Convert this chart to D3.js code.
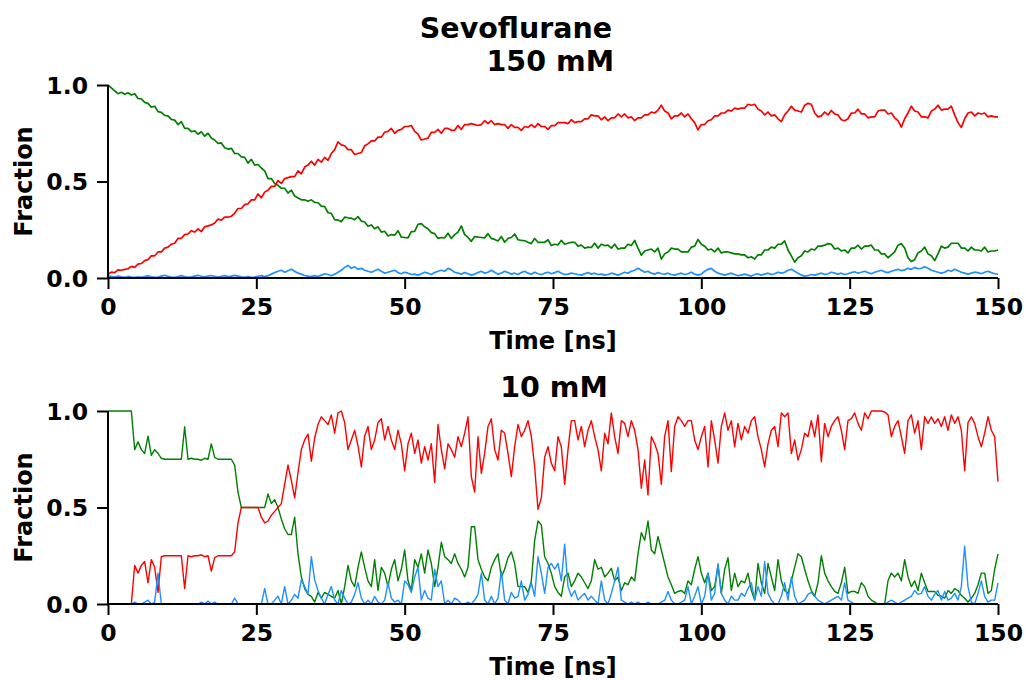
<!DOCTYPE html>
<html>
<head>
<meta charset="utf-8">
<script src="https://cdn.jsdelivr.net/npm/d3@7"></script>
<style>
  html, body { margin: 0; padding: 0; background: #fff; }
  svg { display: block; }
  text { font-family: "DejaVu Sans", sans-serif; font-weight: bold; fill: #000; }
</style>
</head>
<body>
<svg id="chart" width="1026" height="680"></svg>
<script>
// Fraction of frames in each state along a 150 ns trajectory (268 saved frames).
const frameCount = 268;
const timeNs = d3.range(frameCount).map(i => +(i * 150 / (frameCount - 1)).toFixed(3));

const xTicks = [0, 25, 50, 75, 100, 125, 150];
const yTicks = [0.0, 0.5, 1.0];

// ---- 150 mM ----
const high_red = [
  0.02, 0.03, 0.028, 0.042, 0.04, 0.045, 0.048, 0.06, 0.055, 0.072,
  0.075, 0.09, 0.095, 0.115, 0.115, 0.135, 0.135, 0.155, 0.16, 0.175,
  0.18, 0.205, 0.205, 0.225, 0.228, 0.245, 0.238, 0.255, 0.24, 0.265,
  0.27, 0.275, 0.285, 0.305, 0.3, 0.315, 0.315, 0.32, 0.335, 0.36,
  0.36, 0.38, 0.385, 0.405, 0.405, 0.435, 0.415, 0.445, 0.455, 0.475,
  0.475, 0.505, 0.49, 0.515, 0.52, 0.525, 0.525, 0.555, 0.54, 0.575,
  0.585, 0.605, 0.585, 0.615, 0.6, 0.625, 0.61, 0.645, 0.665, 0.705,
  0.69, 0.685, 0.665, 0.665, 0.64, 0.645, 0.65, 0.685, 0.695, 0.71,
  0.71, 0.73, 0.73, 0.755, 0.76, 0.775, 0.75, 0.765, 0.77, 0.785,
  0.785, 0.79, 0.76, 0.745, 0.715, 0.72, 0.725, 0.755, 0.755, 0.77,
  0.75, 0.775, 0.775, 0.765, 0.765, 0.79, 0.77, 0.795, 0.795, 0.8,
  0.795, 0.79, 0.795, 0.815, 0.8, 0.815, 0.795, 0.8, 0.795, 0.795,
  0.775, 0.795, 0.78, 0.78, 0.765, 0.785, 0.78, 0.795, 0.78, 0.8,
  0.785, 0.785, 0.77, 0.79, 0.79, 0.805, 0.805, 0.805, 0.8, 0.82,
  0.805, 0.81, 0.81, 0.825, 0.825, 0.845, 0.84, 0.84, 0.82, 0.835,
  0.815, 0.83, 0.83, 0.85, 0.835, 0.85, 0.83, 0.835, 0.815, 0.83,
  0.83, 0.845, 0.845, 0.86, 0.855, 0.87, 0.895, 0.865, 0.855, 0.825,
  0.84, 0.84, 0.855, 0.835, 0.85, 0.825, 0.805, 0.768, 0.795, 0.795,
  0.815, 0.82, 0.84, 0.84, 0.855, 0.855, 0.87, 0.865, 0.88, 0.875,
  0.88, 0.88, 0.9, 0.895, 0.9, 0.875, 0.865, 0.845, 0.86, 0.84,
  0.845, 0.825, 0.81, 0.845, 0.865, 0.89, 0.87, 0.865, 0.86, 0.895,
  0.905, 0.9, 0.855, 0.835, 0.84, 0.86, 0.845, 0.868, 0.85, 0.845,
  0.82, 0.815, 0.825, 0.855, 0.855, 0.875, 0.85, 0.85, 0.83, 0.835,
  0.835, 0.865, 0.87, 0.87, 0.85, 0.855, 0.83, 0.815, 0.782, 0.825,
  0.855, 0.89, 0.865, 0.86, 0.835, 0.835, 0.83, 0.865, 0.875, 0.895,
  0.87, 0.875, 0.875, 0.89, 0.845, 0.805, 0.78, 0.825, 0.855, 0.86,
  0.84, 0.855, 0.85, 0.855, 0.835, 0.84, 0.835, 0.835
];

const high_green = [
  1.0, 0.985, 0.97, 0.955, 0.962, 0.952, 0.96, 0.948, 0.955, 0.93,
  0.928, 0.91, 0.905, 0.885, 0.89, 0.862, 0.858, 0.842, 0.84, 0.822,
  0.818, 0.795, 0.81, 0.775, 0.775, 0.758, 0.762, 0.745, 0.758, 0.735,
  0.75, 0.725, 0.715, 0.698, 0.7, 0.675, 0.668, 0.672, 0.645, 0.645,
  0.628, 0.625, 0.595, 0.615, 0.585, 0.588, 0.57, 0.555, 0.515, 0.515,
  0.49, 0.48, 0.465, 0.465, 0.44, 0.455, 0.425, 0.415, 0.405, 0.405,
  0.398, 0.405, 0.392, 0.39, 0.372, 0.37, 0.338, 0.335, 0.302, 0.3,
  0.292, 0.315, 0.312, 0.31, 0.302, 0.318, 0.295, 0.29, 0.268, 0.275,
  0.255, 0.265, 0.238, 0.242, 0.218, 0.225, 0.222, 0.245, 0.212, 0.21,
  0.208, 0.24, 0.242, 0.278, 0.282, 0.265, 0.255, 0.235, 0.23, 0.205,
  0.21, 0.208, 0.232, 0.205, 0.225, 0.238, 0.27, 0.225, 0.21, 0.19,
  0.215, 0.212, 0.21, 0.208, 0.23, 0.205, 0.2, 0.192, 0.215, 0.185,
  0.205, 0.21, 0.228, 0.198, 0.195, 0.193, 0.185, 0.178, 0.205, 0.185,
  0.185, 0.185, 0.198, 0.168, 0.175, 0.172, 0.195, 0.175, 0.18, 0.185,
  0.185, 0.165, 0.17, 0.155, 0.16, 0.158, 0.18, 0.155, 0.175, 0.168,
  0.17, 0.155, 0.175, 0.15, 0.155, 0.155, 0.175, 0.168, 0.195, 0.155,
  0.118, 0.14, 0.145, 0.15, 0.135, 0.155, 0.098, 0.125, 0.135, 0.155,
  0.15, 0.15, 0.135, 0.135, 0.135, 0.16, 0.165, 0.2, 0.175, 0.165,
  0.145, 0.15, 0.135, 0.155, 0.13, 0.135, 0.135, 0.13, 0.125, 0.125,
  0.12, 0.12, 0.105, 0.11, 0.098, 0.12, 0.12, 0.145, 0.145, 0.16,
  0.155, 0.175, 0.175, 0.192, 0.145, 0.115, 0.082, 0.105, 0.115, 0.14,
  0.135, 0.15, 0.145, 0.165, 0.165, 0.17, 0.178, 0.175, 0.15, 0.155,
  0.14, 0.145, 0.13, 0.155, 0.155, 0.17, 0.15, 0.165, 0.165, 0.17,
  0.145, 0.145, 0.125, 0.125, 0.105, 0.12, 0.135, 0.17, 0.178, 0.155,
  0.105, 0.085, 0.095, 0.13, 0.14, 0.16, 0.125, 0.115, 0.09, 0.125,
  0.165, 0.155, 0.16, 0.18, 0.18, 0.18, 0.155, 0.155, 0.14, 0.16,
  0.145, 0.145, 0.14, 0.16, 0.135, 0.14, 0.14, 0.145
];

const high_blue = [
  0.01, 0.008, 0.005, 0.01, 0.006, 0.004, 0.008, 0.005, 0.003, 0.006,
  0.004, 0.008, 0.012, 0.006, 0.003, 0.005, 0.01, 0.014, 0.008, 0.005,
  0.004, 0.007, 0.012, 0.008, 0.004, 0.006, 0.01, 0.014, 0.009, 0.006,
  0.01, 0.013, 0.008, 0.005, 0.009, 0.012, 0.007, 0.01, 0.014, 0.01,
  0.006, 0.004, 0.008, 0.003, 0.005, 0.009, 0.012, 0.007, 0.012, 0.02,
  0.028, 0.035, 0.04, 0.03, 0.038, 0.045, 0.035, 0.025, 0.02, 0.013,
  0.01, 0.008, 0.012, 0.008, 0.015, 0.022, 0.018, 0.012, 0.02, 0.03,
  0.04, 0.055, 0.065, 0.05, 0.058, 0.045, 0.05, 0.04, 0.035, 0.03,
  0.038, 0.045, 0.035, 0.025, 0.03, 0.035, 0.04, 0.028, 0.022, 0.03,
  0.025, 0.018, 0.02, 0.015, 0.022, 0.03, 0.025, 0.018, 0.028, 0.035,
  0.04, 0.035, 0.05, 0.042, 0.03, 0.025, 0.02, 0.028, 0.022, 0.015,
  0.02, 0.028, 0.035, 0.025, 0.03, 0.04, 0.03, 0.02, 0.025, 0.035,
  0.028, 0.02, 0.025, 0.018, 0.028, 0.035, 0.025, 0.02, 0.03, 0.022,
  0.018, 0.025, 0.03, 0.022, 0.028, 0.035, 0.025, 0.018, 0.02, 0.025,
  0.022, 0.018, 0.015, 0.022, 0.028, 0.02, 0.025, 0.018, 0.02, 0.015,
  0.018, 0.025, 0.02, 0.015, 0.022, 0.03, 0.025, 0.035, 0.04, 0.05,
  0.04, 0.03, 0.035, 0.025, 0.02, 0.028, 0.022, 0.02, 0.025, 0.018,
  0.015, 0.02, 0.025, 0.018, 0.022, 0.03, 0.02, 0.015, 0.02, 0.035,
  0.045, 0.05, 0.035, 0.025, 0.02, 0.015, 0.02, 0.025, 0.018, 0.012,
  0.015, 0.02, 0.015, 0.01, 0.018, 0.022, 0.015, 0.02, 0.025, 0.018,
  0.022, 0.03, 0.025, 0.03, 0.04, 0.045, 0.035, 0.025, 0.015, 0.01,
  0.012, 0.018, 0.015, 0.02, 0.025, 0.018, 0.022, 0.03, 0.025, 0.02,
  0.025, 0.018, 0.022, 0.028, 0.032, 0.025, 0.03, 0.035, 0.028, 0.022,
  0.03, 0.035, 0.04, 0.032, 0.028, 0.035, 0.04, 0.045, 0.038, 0.042,
  0.05, 0.045, 0.055, 0.048, 0.05, 0.058, 0.05, 0.04, 0.035, 0.03,
  0.025, 0.03, 0.04, 0.035, 0.045, 0.038, 0.03, 0.025, 0.02, 0.025,
  0.03, 0.028, 0.022, 0.03, 0.035, 0.028, 0.022, 0.02
];

// ---- 10 mM ----
const low_red = [
  0, 0, 0, 0, 0, 0, 0, 0, 0.20, 0.16,
  0.20, 0.22, 0.11, 0.23, 0.19, 0.06, 0.245, 0.25, 0.25, 0.25,
  0.25, 0.25, 0.25, 0.08, 0.25, 0.245, 0.25, 0.25, 0.255, 0.245,
  0.25, 0.17, 0.24, 0.25, 0.25, 0.25, 0.25, 0.25, 0.27, 0.42,
  0.50, 0.50, 0.50, 0.50, 0.50, 0.50, 0.45, 0.42, 0.43, 0.46,
  0.48, 0.50, 0.52, 0.62, 0.72, 0.64, 0.55, 0.68, 0.80, 0.85,
  0.88, 0.74, 0.86, 0.93, 0.97, 0.95, 0.93, 0.98, 0.885, 0.99,
  1.0, 0.94, 0.80, 0.85, 0.90, 0.82, 0.71, 0.87, 0.92, 0.80,
  0.85, 0.94, 0.96, 0.85, 0.92, 0.85, 0.80, 0.90, 0.83, 0.69,
  0.83, 0.885, 0.78, 0.85, 0.73, 0.815, 0.746, 0.83, 0.63, 0.93,
  0.80, 0.70, 0.83, 0.80, 0.76, 0.867, 0.815, 0.885, 0.97, 0.66,
  0.58, 0.867, 0.677, 0.78, 0.92, 0.96, 0.80, 0.746, 0.90, 0.885,
  0.78, 0.66, 0.815, 0.93, 0.867, 0.90, 0.95, 0.867, 0.71, 0.49,
  0.55, 0.76, 0.815, 0.73, 0.69, 0.867, 0.815, 0.62, 0.80, 0.95,
  0.95, 0.85, 0.92, 0.815, 0.90, 0.95, 0.867, 0.80, 0.69, 0.885,
  0.83, 0.99, 0.867, 0.78, 0.95, 0.936, 0.867, 0.95, 0.90, 0.80,
  0.60, 0.746, 0.565, 0.867, 0.83, 0.78, 0.62, 0.867, 0.95, 0.686,
  0.92, 0.97, 0.95, 0.92, 0.95, 0.95, 0.85, 0.80, 0.867, 0.92,
  0.71, 0.95, 0.85, 0.73, 0.92, 0.99, 0.90, 0.95, 0.815, 0.936,
  0.85, 0.92, 0.885, 0.95, 0.97, 0.867, 0.80, 0.71, 0.83, 0.90,
  0.92, 0.815, 0.99, 0.97, 0.99, 0.78, 0.85, 0.746, 0.80, 0.885,
  0.867, 0.95, 0.867, 0.98, 0.737, 0.936, 0.867, 0.92, 0.95, 0.97,
  0.90, 0.80, 0.95, 0.96, 0.99, 0.936, 0.90, 0.99, 0.96, 1.0,
  1.0, 1.0, 1.0, 0.995, 0.98, 0.867, 0.92, 0.95, 0.867, 0.78,
  0.95, 0.98, 0.885, 0.95, 0.80, 0.97, 0.936, 0.97, 0.936, 0.96,
  0.92, 0.97, 0.90, 0.98, 0.936, 0.97, 0.90, 0.69, 0.94, 0.97,
  0.936, 0.867, 0.815, 0.885, 0.97, 0.90, 0.867, 0.634
];

const low_green = [
  1, 1, 1, 1, 1, 1, 1, 1, 0.80, 0.84,
  0.80, 0.78, 0.87, 0.77, 0.80, 0.78, 0.755, 0.75, 0.75, 0.75,
  0.75, 0.75, 0.75, 0.918, 0.75, 0.755, 0.75, 0.75, 0.745, 0.755,
  0.75, 0.83, 0.76, 0.75, 0.75, 0.75, 0.75, 0.75, 0.72, 0.58,
  0.50, 0.50, 0.50, 0.50, 0.50, 0.50, 0.50, 0.50, 0.57, 0.52,
  0.54, 0.50, 0.44, 0.39, 0.36, 0.36, 0.45, 0.26, 0.14, 0.08,
  0.05, 0.04, 0.01, 0.06, 0.03, 0.06, 0.05, 0.04, 0.03, 0.07,
  0.0, 0.09, 0.20, 0.12, 0.09, 0.19, 0.27, 0.19, 0.12, 0.09,
  0.23, 0.07, 0.19, 0.16, 0.09, 0.18, 0.23, 0.12, 0.18, 0.28,
  0.12, 0.07, 0.23, 0.19, 0.26, 0.16, 0.28, 0.21, 0.09, 0.19,
  0.32, 0.245, 0.23, 0.21, 0.26, 0.21, 0.18, 0.14, 0.19, 0.40,
  0.40, 0.23, 0.18, 0.14, 0.12, 0.19, 0.23, 0.26, 0.14, 0.18,
  0.24, 0.27, 0.21, 0.09, 0.09, 0.09, 0.06, 0.12, 0.33, 0.43,
  0.41, 0.245, 0.21, 0.16, 0.09, 0.06, 0.04, 0.14, 0.16, 0.09,
  0.12, 0.16, 0.14, 0.11, 0.08, 0.12, 0.23, 0.18, 0.19, 0.14,
  0.16, 0.185, 0.12, 0.14, 0.07, 0.11, 0.10, 0.14, 0.12, 0.26,
  0.37, 0.33, 0.43, 0.28, 0.26, 0.35, 0.28, 0.21, 0.14, 0.10,
  0.055, 0.065, 0.07, 0.055, 0.12, 0.10, 0.18, 0.245, 0.16, 0.11,
  0.16, 0.07, 0.09, 0.20, 0.055, 0.18, 0.24, 0.07, 0.16, 0.09,
  0.12, 0.11, 0.16, 0.07, 0.02, 0.21, 0.11, 0.055, 0.21, 0.14,
  0.07, 0.23, 0.12, 0.07, 0.055, 0.12, 0.19, 0.26, 0.245, 0.18,
  0.12, 0.07, 0.04, 0.11, 0.25, 0.16, 0.12, 0.09, 0.065, 0.055,
  0.11, 0.19, 0.055, 0.065, 0.065, 0.055, 0.11, 0.09, 0.04, 0.02,
  0.01, 0.0, 0.0, 0.0, 0.12, 0.16, 0.14, 0.16, 0.12, 0.23,
  0.14, 0.09, 0.12, 0.07, 0.16, 0.11, 0.065, 0.065, 0.065, 0.045,
  0.04, 0.03, 0.07, 0.055, 0.08, 0.07, 0.045, 0.03, 0.01, 0.03,
  0.055, 0.10, 0.16, 0.16, 0.055, 0.07, 0.18, 0.26
];

const low_blue = [
  0, 0, 0, 0, 0, 0, 0, 0, 0.01, 0,
  0, 0.01, 0.02, 0, 0.01, 0.16, 0, 0, 0, 0,
  0, 0, 0, 0, 0, 0, 0, 0, 0.01, 0,
  0.015, 0, 0.01, 0, 0, 0, 0, 0, 0.03, 0,
  0, 0, 0, 0, 0, 0, 0, 0.08, 0, 0,
  0.02, 0.04, 0, 0.09, 0, 0.02, 0.05, 0.03, 0.125, 0.09,
  0.05, 0.245, 0.125, 0.07, 0.03, 0, 0.05, 0.09, 0.02, 0,
  0.07, 0.03, 0, 0.01, 0.05, 0.11, 0.03, 0, 0.02, 0,
  0.04, 0.01, 0, 0.02, 0.11, 0.03, 0.01, 0.02, 0, 0.12,
  0.10, 0.06, 0.14, 0.19, 0.02, 0.07, 0.03, 0.02, 0.18, 0.09,
  0.12, 0, 0.02, 0, 0.03, 0.02, 0, 0, 0.01, 0,
  0.02, 0.05, 0.16, 0.02, 0, 0.04, 0, 0.03, 0.17, 0.02,
  0, 0.06, 0.03, 0.04, 0.12, 0.02, 0.05, 0.11, 0.04, 0.245,
  0.16, 0.055, 0.19, 0.21, 0.18, 0.21, 0.12, 0.31, 0.09, 0.04,
  0.07, 0.02, 0.04, 0.055, 0.02, 0.04, 0.02, 0, 0.12, 0.02,
  0, 0.055, 0.12, 0.19, 0.02, 0.01, 0, 0.01, 0, 0.01,
  0, 0, 0.01, 0, 0, 0, 0.01, 0.02, 0.065, 0.02,
  0, 0, 0.01, 0.02, 0.09, 0, 0.04, 0.09, 0, 0.04,
  0.16, 0.02, 0.055, 0.21, 0.055, 0.02, 0, 0.04, 0.02, 0.02,
  0.055, 0.04, 0.08, 0.11, 0.02, 0.09, 0.04, 0.22, 0.055, 0.02,
  0, 0, 0.04, 0.11, 0.02, 0.14, 0.04, 0, 0.01, 0.02,
  0.05, 0.06, 0.04, 0.02, 0.01, 0, 0.01, 0.02, 0.03, 0.04,
  0.02, 0.11, 0.02, 0.01, 0, 0, 0, 0, 0, 0,
  0, 0, 0, 0, 0.01, 0.02, 0.01, 0, 0.01, 0.02,
  0.03, 0.04, 0.07, 0.05, 0.055, 0.09, 0.04, 0.02, 0.05, 0.07,
  0.02, 0.065, 0.02, 0.03, 0.055, 0.02, 0.09, 0.30, 0.09, 0.01,
  0, 0.055, 0.12, 0.04, 0.01, 0.02, 0.02, 0.11
];

const seriesColors = { green: "#008000", red: "#ff0000", blue: "#1e90ff" };

const panels = [
  { titleLines: ["Sevoflurane", "150 mM"], top: 85, bottom: 278, lineWidth: 1.7,
    series: [["green", high_green], ["red", high_red], ["blue", high_blue]] },
  { titleLines: ["10 mM"], top: 411, bottom: 604, lineWidth: 1.4,
    series: [["green", low_green], ["red", low_red], ["blue", low_blue]] }
];

const svg = d3.select("#chart");
svg.append("rect").attr("width", 1026).attr("height", 680).attr("fill", "#fff");

const x = d3.scaleLinear().domain([0, 150]).range([108, 998]);

panels.forEach(p => {
  const y = d3.scaleLinear().domain([0, 1]).range([p.bottom, p.top]);
  const g = svg.append("g");

  const line = d3.line()
    .x((d, i) => x(timeNs[i]))
    .y(d => y(d));

  p.series.forEach(([name, values]) => {
    g.append("path")
      .datum(values)
      .attr("fill", "none")
      .attr("stroke", seriesColors[name])
      .attr("stroke-width", p.lineWidth)
      .attr("stroke-linejoin", "round")
      .attr("d", line);
  });

  // axes: left and bottom spines only
  const xAxis = d3.axisBottom(x).tickValues(xTicks).tickFormat(d3.format("d"))
    .tickSize(11).tickPadding(9);
  const yAxis = d3.axisLeft(y).tickValues(yTicks).tickFormat(d3.format(".1f"))
    .tickSize(11).tickPadding(9);

  const gx = g.append("g").attr("transform", `translate(0,${p.bottom})`).call(xAxis);
  const gy = g.append("g").attr("transform", `translate(108,0)`).call(yAxis);

  [gx, gy].forEach(a => {
    a.select(".domain").attr("stroke", "#000").attr("stroke-width", 2)
      .attr("d", a === gx ? `M108,0H998` : `M0,${p.top}V${p.bottom}`);
    a.selectAll(".tick line").attr("stroke", "#000").attr("stroke-width", 2);
    a.selectAll(".tick text")
      .style("font-family", "'DejaVu Sans', sans-serif")
      .style("font-weight", "bold")
      .style("font-size", "23.5px")
      .attr("fill", "#000");
  });
  gy.selectAll(".tick text").attr("dy", "0.36em");

  // axis labels
  g.append("text")
    .attr("x", 553).attr("y", p.bottom + 71)
    .attr("text-anchor", "middle")
    .style("font-size", "24px")
    .text("Time [ns]");

  g.append("text")
    .attr("transform", `translate(32,${(p.top + p.bottom) / 2}) rotate(-90)`)
    .attr("text-anchor", "middle")
    .style("font-size", "24px")
    .text("Fraction");

  // titles
  if (p.titleLines.length === 2) {
    g.append("text").attr("x", 516).attr("y", 38)
      .attr("text-anchor", "middle").style("font-size", "28.5px")
      .text(p.titleLines[0]);
    g.append("text").attr("x", 614).attr("y", 71)
      .attr("text-anchor", "end").style("font-size", "28.5px")
      .text(p.titleLines[1]);
  } else {
    g.append("text").attr("x", 554).attr("y", p.top - 14)
      .attr("text-anchor", "middle").style("font-size", "28.5px")
      .text(p.titleLines[0]);
  }
});
</script>
</body>
</html>
